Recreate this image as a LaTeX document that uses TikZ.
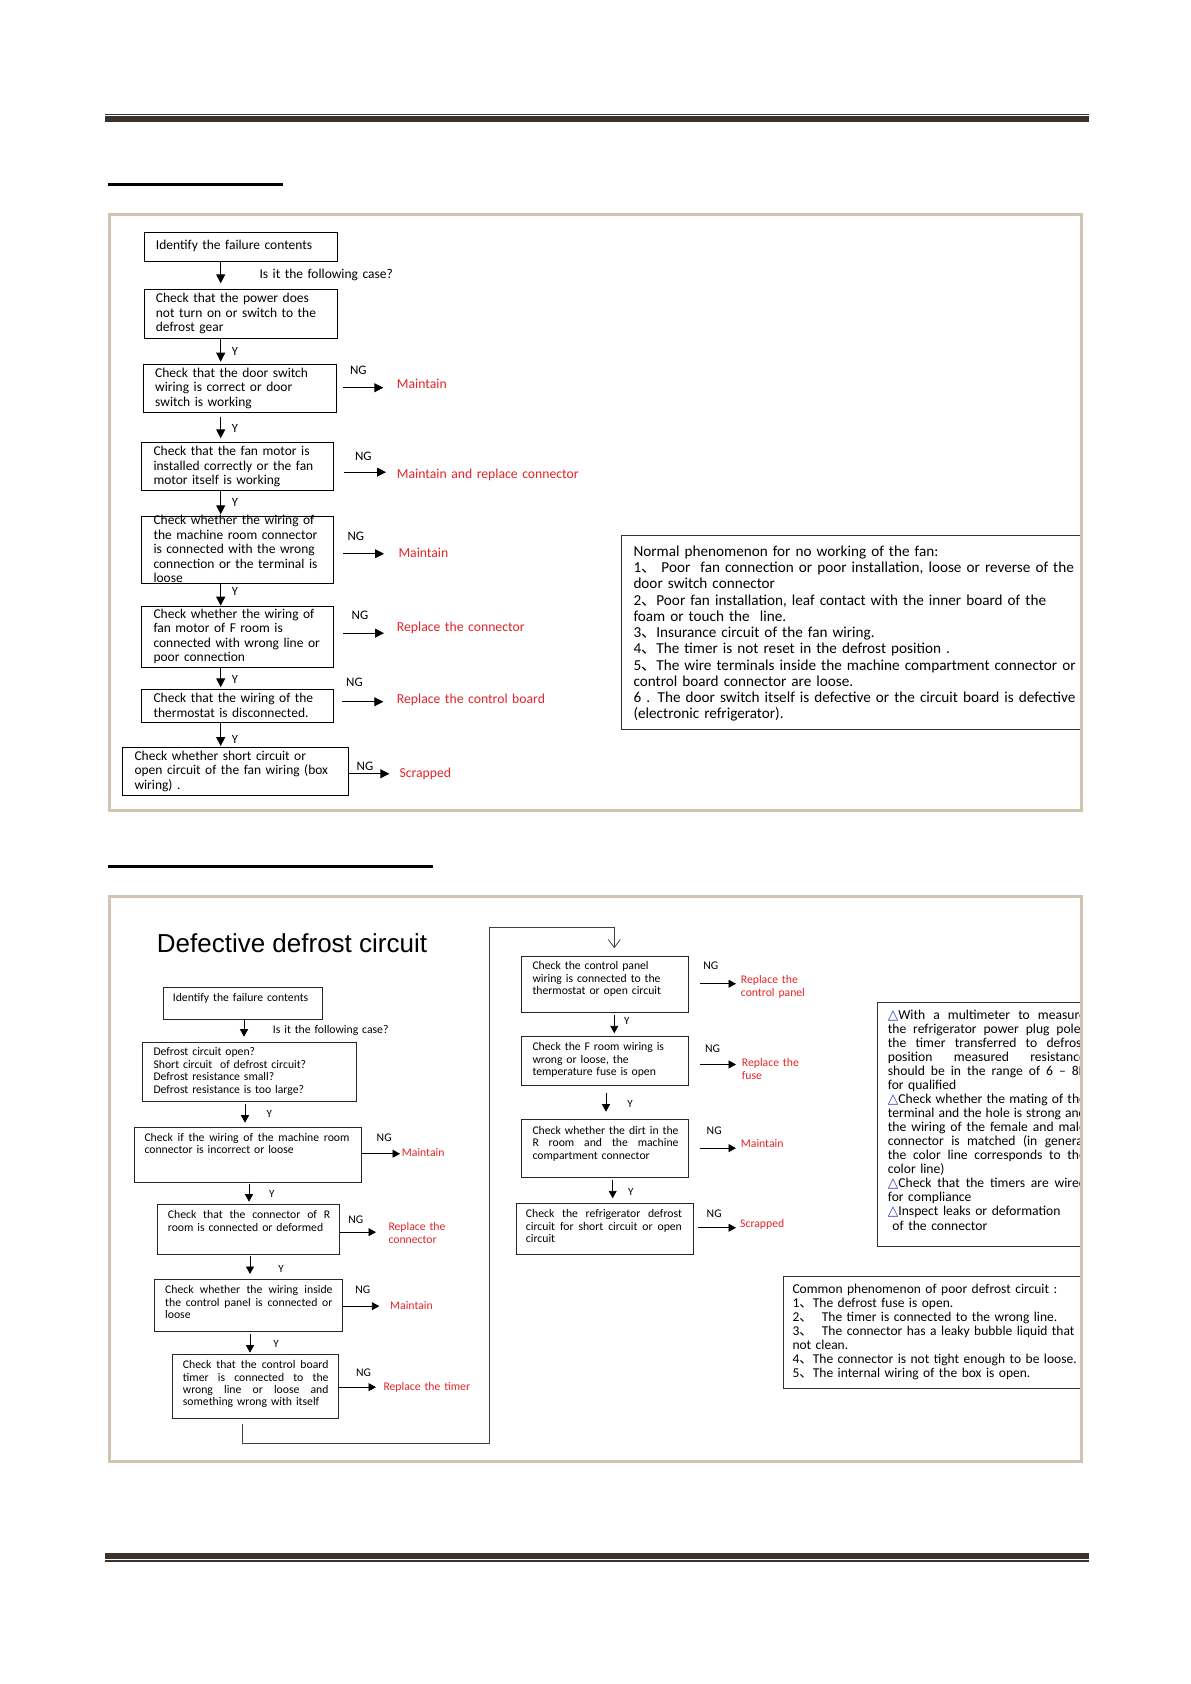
\documentclass[tikz,border=0pt]{standalone}
\usepackage{fontspec}
\setmainfont{Carlito}
\newfontfamily\cjkf{Noto Sans CJK SC}
\newfontfamily\djv{DejaVu Sans}
\newfontfamily\arl{Liberation Sans}
\usetikzlibrary{arrows.meta,calc}
\definecolor{frm}{HTML}{D1C4B3}
\definecolor{hdr}{HTML}{3A322D}
\definecolor{outred}{HTML}{E3242B}
\definecolor{triblue}{HTML}{2A3CC0}
\newcommand\dun{{\cjkf 、}}
\newcommand\tri{{\djv\textcolor{triblue}{△}}}
\newcommand\jl[2]{\leavevmode\hbox to #1{\spaceskip=\fontdimen2\font plus 1fil\relax #2}}
\newcommand\mkbox[6]{\node[#6,anchor=north west,minimum width={#4pt-#2pt},minimum height={#5pt-#3pt}] (#1) at (#2,#3) {};}
\tikzset{
 box1/.style={draw=black, line width=0.9pt, inner sep=0pt},
 box2/.style={draw=black!85, line width=0.9pt, inner sep=0pt},
 nbox/.style={draw=black!80, line width=0.9pt, inner sep=0pt},
 txtbase/.style={anchor=north west, inner sep=0pt, align=left, text width=#1},
 t1/.style={txtbase=300pt, yshift=6pt, font=\fontsize{13.5}{14.4}\selectfont},
 o1/.style={txtbase=300pt, yshift=6pt, font=\fontsize{13.7}{14.4}\selectfont, text=outred},
 ng1/.style={inner sep=0pt, font=\fontsize{13}{14}\selectfont},
 y1/.style={inner sep=0pt, font=\fontsize{12.5}{14}\selectfont},
 t2/.style={txtbase=300pt, yshift=5.2pt, font=\fontsize{11.7}{12.4}\selectfont},
 o2/.style={txtbase=200pt, yshift=5.2pt, font=\fontsize{11.7}{12.4}\selectfont, text=outred},
 ng2/.style={inner sep=0pt, font=\fontsize{11.7}{13}\selectfont},
 y2/.style={inner sep=0pt, font=\fontsize{11}{12}\selectfont},
 tn1/.style={txtbase=460pt, yshift=6.8pt, font=\fontsize{15.2}{16.23}\selectfont},
 tn2/.style={txtbase=220pt, yshift=5.75pt, font=\fontsize{13.6}{14.05}\selectfont},
 tn3/.style={txtbase=300pt, yshift=5.78pt, font=\fontsize{13.5}{14.05}\selectfont},
 arr1/.style={line width=0.9pt, -{Triangle[length=9pt,width=9pt]}},
 arr2/.style={line width=0.9pt, -{Triangle[length=7.5pt,width=8pt]}},
 loopl/.style={draw=black!75, line width=0.8pt, -{Straight Barb[length=8pt,width=12pt]}},
}
\begin{document}
\begin{tikzpicture}[x=1pt,y=-1pt]
\useasboundingbox (0,0) rectangle (1191,1684);
\fill[white] (0,0) rectangle (1191,1684);
% header / footer rules
\fill[hdr] (105,113.8) rectangle (1089,115.2);
\fill[hdr] (105,116.2) rectangle (1089,122);
\fill[hdr] (105,1553) rectangle (1089,1558.8);
\fill[hdr] (105,1559.8) rectangle (1089,1561.6);
% section rules
\fill[black] (108,182.7) rectangle (283,185.7);
\fill[black] (108,865) rectangle (433,868);

% ================= Chart 1 =================
\coordinate (c1) at (220.7,0);
\mkbox{A}{144.3}{232.3}{336.7}{260.7}{box1}
\mkbox{B}{144.3}{289.3}{336.7}{338.3}{box1}
\mkbox{C}{143.3}{364.3}{335.7}{412.3}{box1}
\mkbox{D}{141.3}{442.3}{333.3}{490}{box1}
\mkbox{E}{141.3}{515.7}{333.3}{583.3}{box1}
\mkbox{F}{141.3}{606.3}{333.3}{667.3}{box1}
\mkbox{G}{141.3}{689.3}{333.3}{722.3}{box1}
\mkbox{H}{122.3}{747.3}{348.3}{795}{box1}

\node[t1] (At) at (155.7,245.7) {\strut Identify the failure contents};
\node[t1] (Bt) at (155.7,298.7) {\strut Check that the power does\\not turn on or switch to the\\defrost gear};
\node[t1] (Ct) at (155,373.3) {\strut Check that the door switch\\wiring is correct or door\\switch is working};
\node[t1] (Dt) at (153.3,451.7) {\strut Check that the fan motor is\\installed correctly or the fan\\motor itself is working};
\node[t1] (Et) at (153.3,520.7) {\strut Check whether the wiring of\\the machine room connector\\is connected with the wrong\\connection or the terminal is\\loose};
\node[t1] (Ft) at (153.3,614.3) {\strut Check whether the wiring of\\fan motor of F room is\\connected with wrong line or\\poor connection};
\node[t1] (Gt) at (153.3,698.7) {\strut Check that the wiring of the\\thermostat is disconnected.};
\node[t1] (Ht) at (134.3,756) {\strut Check whether short circuit or\\open circuit of the fan wiring (box\\wiring) .};

\node[t1] (q0) at (259.3,274.7) {\strut Is it the following case?};

\node[o1] (oC) at (396.7,384.3) {\strut Maintain};
\node[o1] (oD) at (396.7,474.7) {\strut Maintain and replace connector};
\node[o1] (oE) at (398.3,553) {\strut Maintain};
\node[o1] (oF) at (396.7,627) {\strut Replace the connector};
\node[o1] (oG) at (396.7,699.3) {\strut Replace the control board};
\node[o1] (oH) at (399.3,773.3) {\strut Scrapped};

\node[ng1] (nC) at (358.3,370) {NG};
\node[ng1] (nD) at (363.3,456) {NG};
\node[ng1] (nE) at (355.8,536.3) {NG};
\node[ng1] (nF) at (360,615.7) {NG};
\node[ng1] (nG) at (354.5,682.3) {NG};
\node[ng1] (nH) at (365,766) {NG};

\node[y1] (yB) at (235,351.7) {Y};
\node[y1] (yC) at (235,428.3) {Y};
\node[y1] (yD) at (235,502.7) {Y};
\node[y1] (yE) at (235,591) {Y};
\node[y1] (yF) at (235,679.7) {Y};
\node[y1] (yG) at (235,739.3) {Y};

\draw[arr1] (A.south -| c1) -- ($(B.north -| c1)+(0,-6)$);
\draw[arr1] (B.south -| c1) -- ($(C.north -| c1)+(0,-2.6)$);
\draw[arr1] ($(C.south -| c1)+(0,3.4)$) -- ($(D.north -| c1)+(0,-4)$);
\draw[arr1] (D.south -| c1) -- ($(E.north -| c1)+(0,-1.4)$);
\draw[arr1] (E.south -| c1) -- ($(F.north -| c1)+(0,-0.6)$);
\draw[arr1] (F.south -| c1) -- ($(G.north -| c1)+(0,-2)$);
\draw[arr1] (G.south -| c1) -- ($(H.north -| c1)+(0,-1.3)$);

\draw[arr1] ($(C.east)+(6.6,-1)$) -- ($(oC.west |- C.east)+(-13.4,-1)$);
\draw[arr1] ($(D.east)+(10,5.55)$) -- ($(oD.west |- D.east)+(-10.7,5.55)$);
\draw[arr1] ($(E.east)+(9,3.8)$) -- ($(oE.west |- E.east)+(-14.3,3.8)$);
\draw[arr1] ($(F.east)+(9,-4.1)$) -- ($(oF.west |- F.east)+(-12.7,-4.1)$);
\draw[arr1] ($(G.east)+(7.4,-4.5)$) -- ($(oG.west |- G.east)+(-13.4,-4.5)$);
\draw[arr1] ($(H.east)+(0,2.15)$) -- ($(oH.west |- H.east)+(-10,2.15)$);

% note 1
\node[nbox,anchor=north west,minimum width=460pt,minimum height=194.3pt] (N1) at (621,535) {};
\node[tn1] (N1t) at (633.3,551.7) {\strut Normal phenomenon for no working of the fan:\\
1\dun\ Poor\ \ fan connection or poor installation, loose or reverse of the\\
door switch connector\\
2\dun Poor fan installation, leaf contact with the inner board of the\\
foam or touch the\ \ line.\\
3\dun Insurance circuit of the fan wiring.\\
4\dun The timer is not reset in the defrost position .\\
5\dun The wire terminals inside the machine compartment connector or\\
control board connector are loose.\\
6 . The door switch itself is defective or the circuit board is defective\\
(electronic refrigerator).};

% ================= Chart 2 =================
\node[anchor=base west, inner sep=0pt, font=\arl\fontsize{26}{28}\selectfont] (T2) at (156.7,952.7) {Defective defrost circuit};

\mkbox{p1}{163.3}{987.3}{321.7}{1019}{box2}
\mkbox{p2}{142.3}{1041.7}{355.7}{1101.3}{box2}
\mkbox{p3}{134.3}{1126.7}{360.7}{1181.7}{box2}
\mkbox{p4}{157.3}{1204.3}{339.3}{1254}{box2}
\mkbox{p5}{154.3}{1279.3}{342.3}{1331.3}{box2}
\mkbox{p6}{172.3}{1354}{338.3}{1418.3}{box2}
\mkbox{q1}{521.3}{955.7}{687.7}{1012.3}{box2}
\mkbox{q2}{521.3}{1036}{687.7}{1085}{box2}
\mkbox{q3}{521.3}{1119.3}{687.7}{1176.7}{box2}
\mkbox{q4}{515.7}{1203.3}{693.3}{1253.5}{box2}

\node[t2] (p1t) at (172.7,998.3) {\strut Identify the failure contents};
\node[t2] (p2t) at (153.3,1052.3) {\strut Defrost circuit open?\\Short circuit\ \ of defrost circuit?\\Defrost resistance small?\\Defrost resistance is too large?};
\node[t2] (p3t) at (144.3,1137.7) {\strut\jl{205pt}{Check if the wiring of the machine room}\\connector is incorrect or loose};
\node[t2] (p4t) at (167.7,1215) {\strut\jl{162.3pt}{Check that the connector of R}\\room is connected or deformed};
\node[t2] (p5t) at (165,1290) {\strut\jl{167.3pt}{Check whether the wiring inside}\\\jl{167.3pt}{the control panel is connected or}\\loose};
\node[t2] (p6t) at (182.7,1365) {\strut\jl{145.6pt}{Check that the control board}\\\jl{145.6pt}{timer is connected to the}\\\jl{145.6pt}{wrong line or loose and}\\something wrong with itself};
\node[t2] (q1t) at (532.3,966) {\strut Check the control panel\\wiring is connected to the\\thermostat or open circuit};
\node[t2] (q2t) at (532.3,1047.3) {\strut Check the F room wiring is\\wrong or loose, the\\temperature fuse is open};
\node[t2] (q3t) at (532.3,1130.7) {\strut\jl{146pt}{Check whether the dirt in the}\\\jl{146pt}{R room and the machine}\\compartment connector};
\node[t2] (q4t) at (525.7,1214) {\strut\jl{156pt}{Check the refrigerator defrost}\\\jl{156pt}{circuit for short circuit or open}\\circuit};

\node[t2] (q02) at (272.7,1030) {\strut Is it the following case?};

\node[o2] (o3) at (401.7,1153.3) {\strut Maintain};
\node[o2] (o4) at (388.3,1227.3) {\strut Replace the\\connector};
\node[o2] (o5) at (390,1305.7) {\strut Maintain};
\node[o2] (o6) at (383.3,1386.7) {\strut Replace the timer};
\node[o2] (r1) at (740.7,980) {\strut Replace the\\control panel};
\node[o2] (r2) at (741.7,1063.3) {\strut Replace the\\fuse};
\node[o2] (r3) at (740.7,1144) {\strut Maintain};
\node[o2] (r4) at (740,1224) {\strut Scrapped};

\node[ng2] (n3) at (384.2,1137.7) {NG};
\node[ng2] (n4) at (355.8,1220) {NG};
\node[ng2] (n5) at (362.8,1290) {NG};
\node[ng2] (n6) at (363.5,1372.3) {NG};
\node[ng2] (m1) at (710.8,965.7) {NG};
\node[ng2] (m2) at (712.5,1048.3) {NG};
\node[ng2] (m3) at (714.2,1131) {NG};
\node[ng2] (m4) at (714.2,1213.3) {NG};

\node[y2] (y3) at (269.3,1114.3) {Y};
\node[y2] (y4) at (271.7,1194.2) {Y};
\node[y2] (y5) at (281,1269) {Y};
\node[y2] (y6) at (276,1344.3) {Y};
\node[y2] (z2) at (626.7,1021) {Y};
\node[y2] (z3) at (630,1104.3) {Y};
\node[y2] (z4) at (630.7,1191.7) {Y};

\coordinate (k1) at (244,0);
\coordinate (k2) at (245,0);
\coordinate (k3) at (249,0);
\coordinate (k4) at (250,0);
\coordinate (k5) at (614.3,0);
\coordinate (k6) at (606,0);
\coordinate (k7) at (612.7,0);

\draw[arr2] (p1.south -| k1) -- ($(p2.north -| k1)+(0,-5)$);
\draw[arr2] ($(p2.south -| k2)+(0,2)$) -- ($(p3.north -| k2)+(0,-4)$);
\draw[arr2] ($(p3.south -| k3)+(0,1.3)$) -- ($(p4.north -| k3)+(0,-2.6)$);
\draw[arr2] ($(p4.south -| k4)+(0,1)$) -- ($(p5.north -| k4)+(0,-5.3)$);
\draw[arr2] ($(p5.south -| k4)+(0,2)$) -- ($(p6.north -| k4)+(0,-1.3)$);
\draw[arr2] ($(q1.south -| k5)+(0,2)$) -- ($(q2.north -| k5)+(0,-2.7)$);
\draw[arr2] ($(q2.south -| k6)+(0,6.7)$) -- ($(q3.north -| k6)+(0,-7.6)$);
\draw[arr2] ($(q3.south -| k7)+(0,2.3)$) -- ($(q4.north -| k7)+(0,-5)$);

\draw[arr2] ($(p3.east)+(0,-0.9)$) -- ($(o3.west |- p3.east)+(-1.7,-0.9)$);
\draw[arr2] ($(p4.east)+(0,2.55)$) -- ($(o4.west |- p4.east)+(-12.3,2.55)$);
\draw[arr2] ($(p5.east)+(0,0.4)$) -- ($(o5.west |- p5.east)+(-10.7,0.4)$);
\draw[arr2] ($(p6.east)+(0,0.55)$) -- ($(o6.west |- p6.east)+(-7.3,0.55)$);
\draw[arr2] ($(q1.east)+(11.3,-0.7)$) -- ($(r1.west |- q1.east)+(-4.7,-0.7)$);
\draw[arr2] ($(q2.east)+(11.3,3.5)$) -- ($(r2.west |- q2.east)+(-5.7,3.5)$);
\draw[arr2] ($(q3.east)+(11.3,-0.3)$) -- ($(r3.west |- q3.east)+(-4.7,-0.3)$);
\draw[arr2] ($(q4.east)+(3.4,-1.1)$) -- ($(r4.west |- q4.east)+(-4,-1.1)$);

% loop connector from the left column to the right column
\coordinate (lpx) at (242.7,0);
\coordinate (lpb) at (489.3,1443.3);
\coordinate (lpt) at (489.3,927.5);
\draw[loopl] ($(p6.south -| lpx)+(0,4.4)$) |- (lpb) -- (lpt) -| ($(q1.north -| k5)+(0,-7.5)$);

% note 2
\node[nbox,anchor=north west,minimum width={1080.5pt-877.3pt},minimum height={1245.7pt-1001.7pt}] (N2) at (877.3,1001.7) {};
\begin{scope}
\clip (870,1003) rectangle (1080,1244);
\node[tn2] (N2t) at (887.7,1015) {\strut\jl{198pt}{\tri With a multimeter to measure}\\
\jl{198pt}{the refrigerator power plug poles}\\
\jl{198pt}{the timer transferred to defrost}\\
\jl{198pt}{position measured resistance}\\
\jl{198pt}{should be in the range of 6 – 8K}\\
for qualified\\
\jl{198pt}{\tri Check whether the mating of the}\\
\jl{198pt}{terminal and the hole is strong and}\\
\jl{198pt}{the wiring of the female and male}\\
\jl{198pt}{connector is matched (in general}\\
\jl{198pt}{the color line corresponds to the}\\
color line)\\
\jl{198pt}{\tri Check that the timers are wired}\\
for compliance\\
\tri Inspect leaks or deformation\\
\ of the connector};
\end{scope}

% note 3
\node[nbox,anchor=north west,minimum width={1080.5pt-782.7pt},minimum height={1388.3pt-1276pt}] (N3) at (782.7,1276) {};
\node[tn3] (N3t) at (792.3,1289) {\strut Common phenomenon of poor defrost circuit :\\
1\dun The defrost fuse is open.\\
2\dun\ \ The timer is connected to the wrong line.\\
\jl{282pt}{3\dun\ \ The connector has a leaky bubble liquid that}\\
not clean.\\
4\dun The connector is not tight enough to be loose.\\
5\dun The internal wiring of the box is open.};

% frames
\draw[frm, line width=3pt] (109.5,214.5) rectangle (1081.5,810.5);
\draw[frm, line width=3pt] (109.5,896.5) rectangle (1081.5,1461.5);
\end{tikzpicture}
\end{document}
